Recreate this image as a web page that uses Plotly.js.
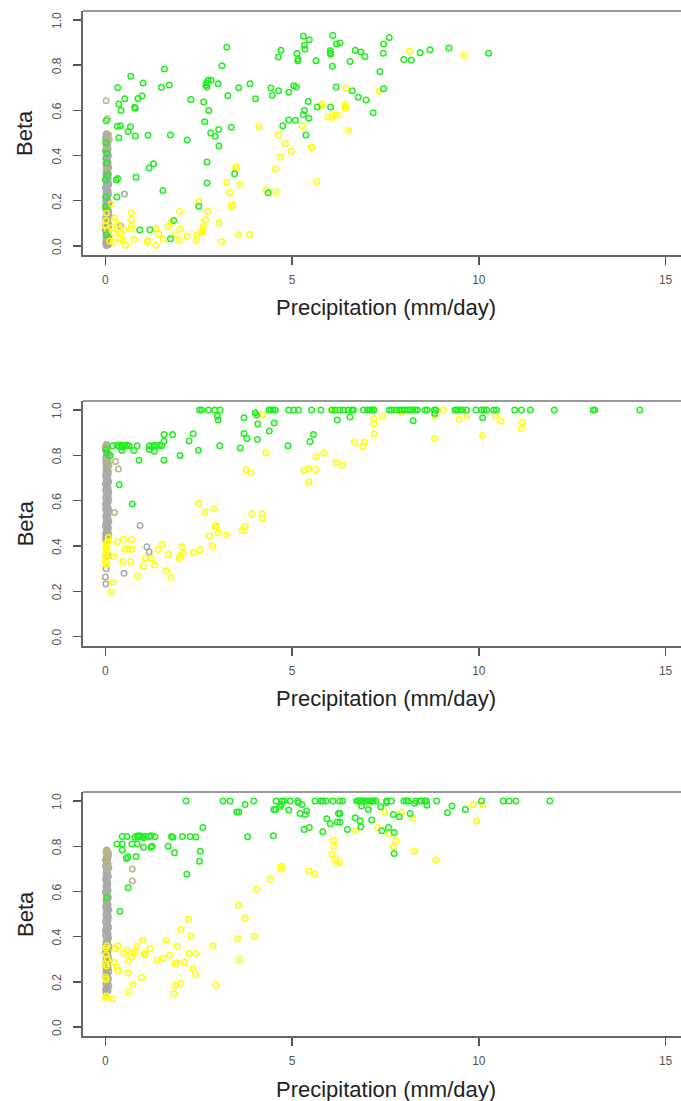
<!DOCTYPE html>
<html><head><meta charset="utf-8">
<script src="https://cdn.plot.ly/plotly-3.0.1.min.js"></script>
<style>html,body{margin:0;padding:0;overflow:hidden;background:#fff}</style>
</head><body><div id="chart" style="width:700px;height:1101px"></div>
<script>
// ---------- DATA (x = precipitation mm/day, y = beta) ----------
const xTicks = [0, 5, 10, 15];
const xTickText = ["0", "5", "10", "15"];
const yTicks = [0, 0.2, 0.4, 0.6, 0.8, 1.0];
const yTickText = ["0.0", "0.2", "0.4", "0.6", "0.8", "1.0"];

// Panel 1
const p1Gray = [[0.03,0.002],[0.07,0.011],[0.01,0.018],[0.05,0.026],[0.09,0.031],[0.02,0.039],[0.06,0.047],[0.04,0.052],[0.08,0.061],[0.00,0.068],
[0.05,0.074],[0.02,0.083],[0.09,0.089],[0.03,0.097],[0.07,0.104],[0.01,0.112],[0.06,0.118],[0.04,0.127],[0.10,0.133],[0.02,0.141],
[0.08,0.148],[0.03,0.156],[0.05,0.163],[0.00,0.171],[0.07,0.177],[0.04,0.186],[0.09,0.192],[0.01,0.199],[0.06,0.207],[0.03,0.214],
[0.05,0.222],[0.08,0.229],[0.02,0.236],[0.07,0.243],[0.04,0.251],[0.00,0.258],[0.06,0.266],[0.09,0.273],[0.03,0.281],[0.05,0.287],
[0.01,0.296],[0.07,0.302],[0.04,0.311],[0.08,0.318],[0.02,0.324],[0.06,0.333],[0.03,0.339],[0.09,0.347],[0.05,0.355],[0.01,0.362],
[0.07,0.369],[0.04,0.377],[0.02,0.384],[0.06,0.392],[0.08,0.398],[0.03,0.407],[0.05,0.415],[0.00,0.421],[0.07,0.429],[0.04,0.438],
[0.02,0.446],[0.06,0.453],[0.03,0.462],[0.05,0.471],[0.01,0.479],[0.04,0.488],[0.03,0.497],[0.08,0.006],[0.06,0.022],[0.10,0.044],
[0.02,0.071],[0.07,0.093],[0.04,0.128],[0.09,0.152],[0.51,0.230],[0.40,0.088],
[0.01,0.007],[0.04,0.015],[0.02,0.035],[0.06,0.057],[0.03,0.079],[0.05,0.101],[0.01,0.122],[0.07,0.137],[0.02,0.159],[0.05,0.181],
[0.03,0.203],[0.01,0.218],[0.06,0.240],[0.02,0.262],[0.04,0.277],[0.07,0.292],[0.01,0.314],[0.05,0.329],[0.03,0.351],[0.06,0.373],
[0.01,0.388],[0.04,0.402],[0.02,0.425],[0.06,0.441],[0.04,0.457],[0.01,0.475],[0.06,0.484],[0.02,0.492]];
const p1Tan = [[0.02,0.643],[0.05,0.563],[0.08,0.492],[0.04,0.440],[0.06,0.350],[0.10,0.470]];
const p1Yellow = [[4.11,0.527],[4.64,0.491],[5.27,0.532],[5.76,0.621],[5.80,0.628],[5.54,0.437],[5.51,0.437],[4.68,0.394],[4.82,0.453],[4.98,0.419],
[4.55,0.341],[5.66,0.285],[5.96,0.571],[6.07,0.569],[6.14,0.581],[6.22,0.579],[4.30,0.249],[4.57,0.239],[3.25,0.282],[3.52,0.348],
[3.48,0.345],[3.33,0.235],[3.60,0.271],[3.37,0.176],[3.41,0.180],[2.50,0.195],[2.74,0.153],[2.68,0.117],[2.63,0.087],[2.60,0.072],
[2.58,0.058],[3.04,0.102],[2.45,0.049],[2.43,0.025],[1.99,0.152],[2.00,0.075],[1.76,0.102],[1.67,0.087],[1.87,0.050],[1.98,0.025],
[2.19,0.043],[3.11,0.018],[3.57,0.050],[3.86,0.050],[1.35,0.078],[1.43,0.053],[1.35,0.003],[1.54,0.031],[1.14,0.024],[1.12,0.018],
[0.69,0.146],[0.70,0.117],[0.71,0.093],[0.69,0.077],[0.76,0.028],[0.49,0.072],[0.40,0.058],[0.38,0.032],[0.54,0.003],[0.45,0.028],
[0.25,0.124],[0.15,0.186],[0.17,0.080],[0.22,0.058],[0.11,0.022],[0.02,0.112],[0.03,0.146],[0.00,0.090],[0.05,0.070],[0.21,0.018],
[0.33,0.095],[8.14,0.863],[9.61,0.844],[6.44,0.699],[7.33,0.686],[6.42,0.625],[6.41,0.615],[6.43,0.608],[6.52,0.510]];
const p1Green = [[3.25,0.879],[3.12,0.798],[1.58,0.783],[0.68,0.751],[1.01,0.721],[0.33,0.700],[1.50,0.702],[1.71,0.712],[0.52,0.652],[0.87,0.653],
[0.98,0.664],[0.36,0.628],[0.42,0.599],[0.78,0.614],[0.80,0.610],[0.32,0.530],[0.40,0.532],[0.67,0.528],[0.61,0.507],[0.36,0.479],
[0.80,0.487],[1.14,0.490],[1.74,0.491],[2.29,0.648],[2.63,0.637],[2.69,0.711],[2.72,0.704],[2.75,0.733],[2.83,0.733],[2.71,0.722],
[3.02,0.718],[2.77,0.599],[2.66,0.550],[2.82,0.500],[2.94,0.485],[3.03,0.515],[3.04,0.442],[2.72,0.372],[2.72,0.279],[3.28,0.665],
[3.57,0.700],[3.87,0.718],[4.02,0.652],[3.37,0.525],[2.19,0.469],[1.29,0.364],[1.17,0.345],[0.33,0.298],[0.29,0.292],[0.82,0.304],
[0.31,0.217],[1.54,0.245],[2.50,0.176],[3.46,0.320],[4.36,0.235],[0.92,0.071],[1.19,0.072],[1.83,0.112],[1.74,0.032],
[0.02,0.554],[0.01,0.457],[0.03,0.410],[0.04,0.367],[0.06,0.314],[0.00,0.292],[0.01,0.218],[0.00,0.174],[0.02,0.049],
[4.43,0.699],[4.47,0.667],[4.64,0.687],[4.63,0.836],[4.70,0.866],[4.91,0.680],[5.04,0.709],[5.11,0.704],[5.13,0.852],[5.15,0.820],
[5.16,0.827],[5.30,0.928],[5.34,0.872],[5.33,0.888],[5.46,0.913],[5.64,0.820],[6.02,0.864],[6.02,0.854],[6.03,0.848],[6.09,0.932],
[6.08,0.795],[6.18,0.704],[6.19,0.894],[5.67,0.615],[5.43,0.639],[5.33,0.599],[5.30,0.581],[5.45,0.565],[5.37,0.491],[4.91,0.557],
[5.09,0.556],[4.75,0.532],[6.03,0.615],[6.28,0.898],[6.69,0.866],[6.84,0.858],[6.95,0.839],[6.55,0.816],[7.45,0.894],[7.60,0.923],
[7.44,0.853],[7.35,0.771],[7.99,0.825],[8.19,0.822],[8.43,0.855],[8.69,0.869],[9.20,0.876],[10.26,0.853],[7.45,0.696],[6.61,0.687],
[6.77,0.658],[6.98,0.646],[7.17,0.590]];

// Panel 2
const p2Gray = [[0.03,0.423],[0.07,0.431],[0.01,0.437],[0.05,0.444],[0.09,0.452],[0.02,0.458],[0.06,0.466],[0.04,0.473],[0.08,0.479],[0.00,0.487],
[0.05,0.494],[0.02,0.501],[0.09,0.508],[0.03,0.516],[0.07,0.522],[0.01,0.529],[0.06,0.537],[0.04,0.543],[0.10,0.551],[0.02,0.558],
[0.08,0.564],[0.03,0.572],[0.05,0.579],[0.00,0.586],[0.07,0.593],[0.04,0.601],[0.09,0.607],[0.01,0.614],[0.06,0.622],[0.03,0.629],
[0.05,0.636],[0.08,0.642],[0.02,0.649],[0.07,0.657],[0.04,0.664],[0.00,0.671],[0.06,0.678],[0.09,0.684],[0.03,0.692],[0.05,0.699],
[0.01,0.706],[0.07,0.713],[0.04,0.719],[0.08,0.727],[0.02,0.734],[0.06,0.741],[0.03,0.748],[0.09,0.755],[0.05,0.762],[0.01,0.769],
[0.07,0.776],[0.04,0.783],[0.02,0.791],[0.06,0.797],[0.08,0.804],[0.03,0.812],[0.05,0.819],[0.00,0.826],[0.04,0.833],[0.02,0.841],
[0.03,0.848],[0.01,0.448],[0.06,0.512],[0.03,0.575],[0.08,0.633],[0.05,0.688],[0.02,0.744],[0.07,0.802],
[0.01,0.427],[0.04,0.441],[0.02,0.462],[0.06,0.483],[0.01,0.497],[0.04,0.519],[0.02,0.533],[0.05,0.554],[0.01,0.568],[0.04,0.589],
[0.02,0.611],[0.06,0.625],[0.01,0.646],[0.04,0.661],[0.02,0.682],[0.06,0.696],[0.01,0.717],[0.04,0.731],[0.02,0.752],[0.05,0.773],
[0.01,0.787],[0.04,0.808],[0.02,0.822],[0.05,0.838],
[0.00,0.263],[0.01,0.232],[0.50,0.280],[0.93,0.490],[1.11,0.397],[1.17,0.374],[0.02,0.300],[0.06,0.355]];
const p2Tan = [[0.27,0.773],[0.35,0.740],[0.24,0.548],[0.00,0.840],[0.05,0.790],[0.09,0.760]];
const p2Yellow = [[6.35,0.756],[6.67,0.858],[6.89,0.840],[6.93,0.858],[7.19,0.895],[7.19,0.940],[7.19,0.962],[7.42,0.973],[7.93,0.988],[8.82,0.976],
[8.81,0.873],[9.05,1.000],[9.47,0.959],[9.68,0.976],[10.10,0.888],[10.45,0.976],[10.59,0.951],[11.16,0.947],[11.14,0.917],[6.10,1.000],
[4.21,0.978],[4.30,0.811],[3.76,0.737],[3.89,0.722],[5.32,0.734],[5.44,0.741],[5.63,0.737],[5.45,0.682],[5.64,0.796],[5.85,0.811],
[6.18,0.768],[2.50,0.589],[2.66,0.549],[2.90,0.564],[2.94,0.486],[2.97,0.489],[3.02,0.459],[3.24,0.449],[2.79,0.444],[2.86,0.400],
[3.66,0.468],[3.74,0.486],[3.92,0.542],[4.19,0.542],[4.21,0.521],[2.53,0.383],[2.36,0.371],[2.05,0.397],[2.08,0.368],[1.98,0.346],
[2.01,0.358],[1.52,0.406],[1.40,0.385],[1.68,0.362],[1.62,0.291],[1.76,0.261],[1.31,0.316],[1.23,0.346],[1.07,0.346],[1.01,0.312],
[0.86,0.269],[0.70,0.428],[0.71,0.386],[0.62,0.386],[0.49,0.430],[0.52,0.386],[0.46,0.331],[0.67,0.331],[0.32,0.419],[0.22,0.353],
[0.20,0.239],[0.15,0.195],[0.08,0.437],[0.02,0.410],[0.04,0.400],[0.01,0.390],[0.05,0.380],[0.00,0.360],[0.03,0.350],[0.00,0.330],
[0.02,0.320],[0.06,0.420]];
const p2Green = [[2.52,1.0],[2.58,1.0],[2.76,1.0],[2.93,1.0],[3.07,1.0],[4.38,1.0],[4.43,1.0],[4.49,1.0],[4.55,1.0],[4.91,1.0],
[5.05,1.0],[5.17,1.0],[5.52,1.0],[5.77,1.0],[6.06,1.0],[6.15,1.0],[6.28,1.0],[6.37,1.0],[6.51,1.0],[6.60,1.0],
[6.64,1.0],[6.91,1.0],[7.02,1.0],[7.09,1.0],[7.14,1.0],[7.19,1.0],[7.60,1.0],[7.66,1.0],[7.78,1.0],[7.87,1.0],
[7.94,1.0],[8.02,1.0],[8.11,1.0],[8.17,1.0],[8.23,1.0],[8.29,1.0],[8.35,1.0],[8.56,1.0],[8.62,1.0],[8.81,1.0],
[8.85,1.0],[9.36,1.0],[9.40,1.0],[9.45,1.0],[9.51,1.0],[9.56,1.0],[9.67,1.0],[9.92,1.0],[10.07,1.0],[10.14,1.0],
[10.21,1.0],[10.40,1.0],[10.47,1.0],[10.96,1.0],[11.14,1.0],[11.38,1.0],[12.02,1.0],[13.06,1.0],[13.10,1.0],[14.31,1.0],
[3.00,0.973],[3.02,0.956],[3.71,0.966],[4.01,0.988],[4.05,0.978],[4.08,0.939],[4.52,0.943],[4.39,0.908],[3.71,0.897],[3.79,0.874],
[4.07,0.870],[3.61,0.833],[3.06,0.843],[4.89,0.843],[5.57,0.892],[5.48,0.861],[6.21,0.956],[2.35,0.895],[2.24,0.863],[1.80,0.892],
[1.57,0.892],[1.57,0.862],[2.49,0.823],[2.00,0.800],[1.57,0.778],[0.90,0.778],[0.72,0.585],[0.37,0.670],
[0.19,0.843],[0.31,0.845],[0.37,0.840],[0.42,0.846],[0.45,0.838],[0.49,0.844],[0.53,0.841],[0.58,0.846],[0.63,0.843],[0.85,0.843],
[1.18,0.843],[1.25,0.838],[1.31,0.845],[1.38,0.841],[1.45,0.846],[1.51,0.843],[0.44,0.821],[1.18,0.826],[1.31,0.818],[0.76,0.821],
[0.04,0.810],[0.02,0.826],[0.13,0.800],[6.55,0.969],[8.24,0.953],[8.82,0.985],[10.10,0.966]];

// Panel 3
const p3Gray = [[0.03,0.152],[0.07,0.161],[0.01,0.168],[0.05,0.176],[0.09,0.183],[0.02,0.192],[0.06,0.199],[0.04,0.207],[0.08,0.214],[0.00,0.223],
[0.05,0.231],[0.02,0.238],[0.09,0.246],[0.03,0.255],[0.07,0.262],[0.01,0.269],[0.06,0.278],[0.04,0.286],[0.10,0.293],[0.02,0.301],
[0.08,0.309],[0.03,0.316],[0.05,0.324],[0.00,0.333],[0.07,0.341],[0.04,0.348],[0.09,0.356],[0.01,0.363],[0.06,0.372],[0.03,0.379],
[0.05,0.387],[0.08,0.394],[0.02,0.402],[0.07,0.411],[0.04,0.418],[0.00,0.426],[0.06,0.433],[0.09,0.441],[0.03,0.449],[0.05,0.457],
[0.01,0.464],[0.07,0.472],[0.04,0.481],[0.08,0.488],[0.02,0.496],[0.06,0.503],[0.03,0.512],[0.09,0.519],[0.05,0.527],[0.01,0.534],
[0.07,0.542],[0.04,0.551],[0.02,0.558],[0.06,0.566],[0.08,0.573],[0.03,0.581],[0.05,0.589],[0.00,0.597],[0.07,0.604],[0.04,0.612],
[0.02,0.619],[0.06,0.627],[0.03,0.636],[0.05,0.643],[0.01,0.651],[0.04,0.658],[0.08,0.666],[0.02,0.673],[0.06,0.682],[0.03,0.689],
[0.05,0.697],[0.09,0.705],[0.01,0.712],[0.07,0.721],[0.04,0.728],[0.02,0.736],[0.06,0.744],[0.03,0.751],[0.08,0.759],[0.05,0.767],
[0.02,0.775],[0.04,0.784],
[0.01,0.157],[0.04,0.172],[0.02,0.188],[0.05,0.203],[0.01,0.219],[0.04,0.234],[0.02,0.251],[0.06,0.266],[0.01,0.282],[0.04,0.297],
[0.02,0.313],[0.05,0.329],[0.01,0.344],[0.04,0.359],[0.02,0.376],[0.06,0.391],[0.01,0.407],[0.04,0.422],[0.02,0.437],[0.05,0.453],
[0.01,0.469],[0.04,0.484],[0.02,0.499],[0.06,0.516],[0.01,0.531],[0.04,0.547],[0.02,0.562],[0.05,0.577],[0.01,0.593],[0.04,0.608],
[0.02,0.623],[0.06,0.639],[0.01,0.655],[0.04,0.669],[0.02,0.686],[0.05,0.701],[0.01,0.716],[0.04,0.732],[0.02,0.747],[0.05,0.763]];
const p3Tan = [[0.72,0.699],[0.72,0.646],[0.02,0.780],[0.05,0.760],[0.00,0.740],[0.08,0.770],[0.03,0.720],[0.06,0.700]];
const p3Yellow = [[6.28,0.727],[6.70,0.869],[7.29,0.883],[7.47,0.953],[7.93,0.951],[7.60,0.854],[7.78,0.824],[7.71,0.798],[8.23,0.923],[8.27,0.778],
[8.85,0.739],[9.85,0.985],[10.10,0.985],[9.94,0.911],[6.11,0.827],[6.11,0.798],[6.07,0.764],[6.15,0.747],[6.19,0.727],[4.71,0.712],
[4.71,0.699],[5.45,0.690],[5.61,0.677],[4.41,0.654],[4.06,0.610],[3.56,0.539],[3.74,0.482],[3.54,0.391],[3.99,0.400],[3.59,0.298],
[2.88,0.359],[2.96,0.185],[2.23,0.477],[2.02,0.431],[2.29,0.403],[1.62,0.384],[1.92,0.357],[2.24,0.325],[2.42,0.325],[1.72,0.318],
[1.38,0.295],[1.54,0.303],[1.87,0.281],[1.92,0.284],[2.12,0.288],[2.34,0.258],[2.41,0.236],[1.87,0.185],[2.01,0.192],[1.83,0.148],
[1.19,0.347],[1.07,0.325],[1.03,0.320],[1.00,0.384],[0.84,0.357],[0.79,0.332],[0.71,0.328],[0.58,0.340],[0.49,0.328],[0.62,0.291],
[0.70,0.310],[0.33,0.360],[0.27,0.347],[0.22,0.288],[0.31,0.266],[0.33,0.251],[0.60,0.239],[0.97,0.219],[0.74,0.188],[0.62,0.155],
[0.20,0.124],[0.03,0.137],[0.01,0.350],[0.02,0.320],[0.00,0.280],[0.03,0.270],[0.01,0.220],[0.02,0.210],[0.00,0.130],[0.04,0.360],
[0.05,0.300]];
const p3Green = [[2.16,1.0],[3.15,1.0],[3.34,1.0],[3.97,1.0],[4.57,1.0],[4.73,1.0],[4.79,1.0],[4.95,1.0],[5.15,1.0],[5.61,1.0],
[5.77,1.0],[5.82,1.0],[5.91,1.0],[6.09,1.0],[6.27,1.0],[6.35,1.0],[6.73,1.0],[6.77,1.0],[6.82,1.0],[6.86,1.0],
[6.91,1.0],[6.98,1.0],[7.04,1.0],[7.09,1.0],[7.13,1.0],[7.17,1.0],[7.24,1.0],[7.53,1.0],[7.66,1.0],[7.99,1.0],
[8.06,1.0],[8.11,1.0],[8.31,1.0],[8.42,1.0],[8.46,1.0],[8.55,1.0],[8.60,1.0],[8.87,1.0],[10.07,1.0],[10.65,1.0],
[10.81,1.0],[10.99,1.0],[11.90,1.0],
[3.52,0.952],[3.57,0.952],[3.74,0.985],[4.71,0.985],[4.67,0.975],[4.56,0.963],[4.51,0.963],[4.91,0.960],[5.26,0.985],[5.17,0.993],
[5.21,0.945],[5.35,0.941],[5.39,0.956],[5.32,0.874],[5.46,0.883],[5.82,0.864],[5.93,0.922],[6.02,0.900],[6.21,0.907],[6.24,0.945],
[3.81,0.842],[4.50,0.846],[2.61,0.883],[2.54,0.778],[2.52,0.734],[2.18,0.676],[1.85,0.771],[1.68,0.800],
[0.45,0.843],[0.58,0.843],[0.79,0.840],[0.85,0.845],[0.88,0.841],[0.92,0.846],[0.98,0.843],[1.02,0.838],[1.08,0.844],[1.17,0.843],
[1.22,0.846],[1.33,0.842],[1.77,0.843],[1.81,0.840],[2.06,0.843],[2.27,0.843],[2.42,0.841],
[0.31,0.810],[0.45,0.810],[0.45,0.783],[0.71,0.810],[0.85,0.810],[1.02,0.796],[1.22,0.796],[1.25,0.800],[0.56,0.746],[0.60,0.752],
[0.82,0.755],[0.61,0.616],[0.39,0.512],[0.03,0.573],
[6.86,0.978],[7.04,0.963],[7.53,0.994],[7.37,0.975],[8.28,0.990],[8.61,0.982],[9.28,0.978],[9.16,0.948],[9.64,0.963],[6.28,0.945],
[6.28,0.906],[6.69,0.926],[6.82,0.913],[6.84,0.886],[7.13,0.916],[6.48,0.874],[7.40,0.869],[7.58,0.883],[7.71,0.941],[7.87,0.931],
[8.16,0.945],[7.73,0.861],[7.73,0.768]];

// ---------- STYLE / BUILD ----------
const COLORS = {gray:'#aaaaaa', tan:'#bdb58a', yellow:'#ffff00', green:'#22ee22'};
const FONT = 'Liberation Sans, Arial, Helvetica, sans-serif';
const panels = [
  {gray:p1Gray, tan:p1Tan, yellow:p1Yellow, green:p1Green},
  {gray:p2Gray, tan:p2Tan, yellow:p2Yellow, green:p2Green},
  {gray:p3Gray, tan:p3Tan, yellow:p3Yellow, green:p3Green}
];
const domains = [[0.7620, 1.0], [0.3808, 0.6195], [0.0, 0.2380]];

const traces = [];
panels.forEach((p, i) => {
  const sfx = i === 0 ? '' : String(i + 1);
  ['gray','tan','yellow','green'].forEach(k => {
    traces.push({
      type:'scatter', mode:'markers',
      x: p[k].map(d => d[0]), y: p[k].map(d => d[1]),
      xaxis:'x' + sfx, yaxis:'y' + sfx,
      marker:{symbol:'circle-open', size:5.5, color:COLORS[k], line:{width:1.5, color:COLORS[k]}},
      hoverinfo:'skip', showlegend:false
    });
  });
});

const layout = {
  width:700, height:1101,
  margin:{l:83, r:12, t:11, b:65},
  paper_bgcolor:'#fff', plot_bgcolor:'#fff',
  showlegend:false,
  font:{family:FONT},
  shapes:[], annotations:[]
};
domains.forEach((dom, i) => {
  const sfx = i === 0 ? '' : String(i + 1);
  const yName = 'y' + sfx;
  layout['xaxis' + sfx] = {
    domain:[0,1], anchor:yName, range:[-0.6, 15.6],
    tickvals:xTicks, ticktext:xTickText,
    ticks:'outside', ticklen:8, tickwidth:1.5, tickcolor:'#555',
    showline:true, linecolor:'#666', linewidth:2, mirror:false,
    showgrid:false, zeroline:false, ticklabelstandoff:5,
    tickfont:{family:FONT, size:12, color:'#555'}
  };
  layout['yaxis' + sfx] = {
    domain:dom, anchor:'x' + sfx, range:[-0.04, 1.04],
    tickvals:yTicks, showticklabels:false,
    ticks:'outside', ticklen:8, tickwidth:1.5, tickcolor:'#555',
    showline:true, linecolor:'#666', linewidth:2, mirror:false,
    showgrid:false, zeroline:false
  };
  layout.shapes.push({type:'line', xref:'paper', yref:yName + ' domain', x0:0, x1:1, y0:1, y1:1,
    line:{color:'#999', width:2}});
  // rotated y tick labels (R las=0 style), placed on the axis scale
  yTicks.forEach((v, j) => {
    layout.annotations.push({text:yTickText[j], xref:'paper', yref:yName, x:-0.043, y:v,
      xanchor:'center', yanchor:'middle', textangle:-90, showarrow:false,
      font:{family:FONT, size:12, color:'#555'}});
  });
  layout.annotations.push({text:'Beta', xref:'paper', yref:yName + ' domain', x:-0.0959, y:0.5,
    xanchor:'center', yanchor:'middle', textangle:-90, showarrow:false,
    font:{family:FONT, size:22, color:'#222'}});
  layout.annotations.push({text:'Precipitation (mm/day)', xref:'paper', yref:yName + ' domain', x:0.5, y:0,
    xanchor:'center', yanchor:'middle', yshift:-53, showarrow:false,
    font:{family:FONT, size:22, color:'#222'}});
});

Plotly.newPlot('chart', traces, layout, {staticPlot:true, displayModeBar:false});
</script>
</body></html>
